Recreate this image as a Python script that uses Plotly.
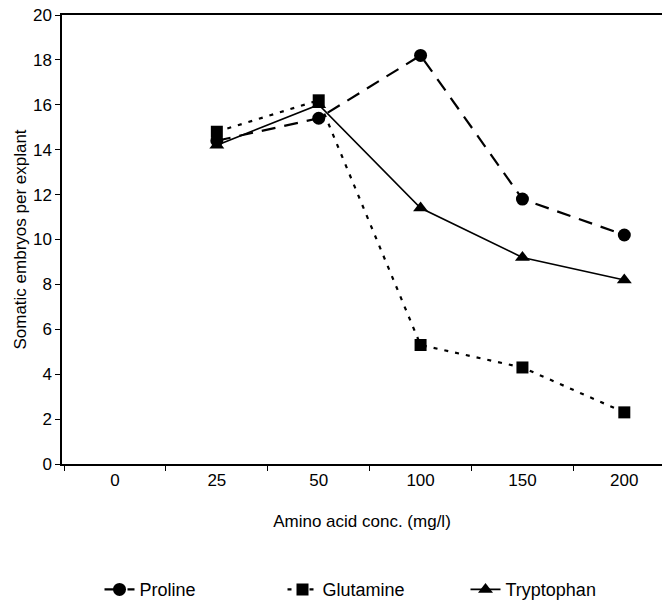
import plotly.graph_objects as go

categories = ["0", "25", "50", "100", "150", "200"]
x_data = ["25", "50", "100", "150", "200"]
proline = [14.4, 15.4, 18.2, 11.8, 10.2]
glutamine = [14.8, 16.2, 5.3, 4.3, 2.3]
tryptophan = [14.2, 16.0, 11.4, 9.2, 8.2]
y_ticks = [0, 2, 4, 6, 8, 10, 12, 14, 16, 18, 20]

fig = go.Figure()
fig.add_trace(go.Scatter(x=x_data, y=proline, name="Proline", mode="lines+markers",
                         line=dict(color="black", width=2.2, dash="14px,9px"),
                         marker=dict(symbol="circle", size=13, color="black")))
fig.add_trace(go.Scatter(x=x_data, y=glutamine, name="Glutamine", mode="lines+markers",
                         line=dict(color="black", width=2.2, dash="4px,7px"),
                         marker=dict(symbol="square", size=12, color="black")))
fig.add_trace(go.Scatter(x=x_data, y=tryptophan, name="Tryptophan", mode="lines+markers",
                         line=dict(color="black", width=1.6),
                         marker=dict(symbol="triangle-up", size=13, color="black")))

fig.update_layout(
    width=662, height=609,
    margin=dict(l=62, r=0, t=15, b=145),
    paper_bgcolor="white", plot_bgcolor="white",
    font=dict(family="Liberation Sans, Arial, sans-serif", size=17, color="black"),
    showlegend=True,
    legend=dict(orientation="h", x=0.52, xanchor="center", y=-0.28, yanchor="middle",
                font=dict(size=18), entrywidth=138, traceorder="normal"),
    xaxis=dict(type="category", categoryorder="array", categoryarray=categories,
               range=[-0.52, 5.37], showline=True, linecolor="black", linewidth=1.5,
               mirror=True, ticks="outside", tickson="boundaries", ticklen=5,
               tickcolor="black", showgrid=False, zeroline=False,
               tickfont=dict(size=17),
               title=dict(text="Amino acid conc. (mg/l)", font=dict(size=17), standoff=26)),
    yaxis=dict(range=[0, 20], tickvals=y_ticks, showline=True, linecolor="black",
               linewidth=1.5, ticks="outside", ticklen=5, tickcolor="black",
               showgrid=False, zeroline=False, tickfont=dict(size=17),
               title=dict(text="Somatic embryos per explant", font=dict(size=17), standoff=2)),
)

fig.write_html("out.html")
